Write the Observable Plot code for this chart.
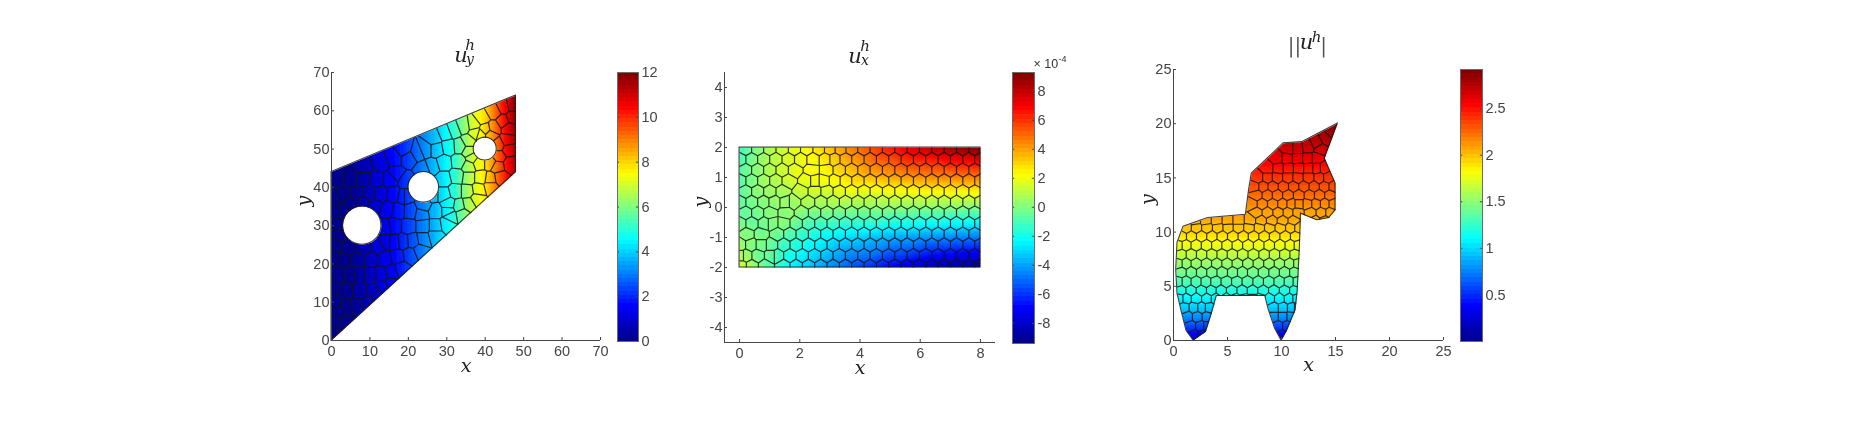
<!DOCTYPE html>
<html><head><meta charset="utf-8">
<script src="https://cdn.jsdelivr.net/npm/d3@7"></script>
<script src="https://cdn.jsdelivr.net/npm/@observablehq/plot@0.6"></script>
<style>html,body{margin:0;background:#fff}#page{position:relative;width:1868px;height:431px;overflow:hidden;filter:blur(.35px)}</style>
</head><body><div id="page"></div>
<script>
const jetStops = ["#00008f","#0000ff","#0080ff","#00ffff","#80ff80","#ffff00","#ff8000","#ff0000","#800000"];
const jet64 = d3.quantize(d3.piecewise(d3.interpolateRgb, jetStops), 64);

// Panel 1 : membrane with three holes
const outline1 = [[0,0],[48,44],[48,64],[0,44]];
const holes1 = [[8,30,5],[24,40,4],[40,50,3]];
const seeds1 = [[1.1,1.7],[.8,4.8],[3.6,4.3],[1.8,7.4],[4,8.7],[6.6,9.1],[9.2,9.5],[11.8,12.1],[.8,10],[3.6,12.8],[7.5,12.6],[11,12.8],[13.5,13.9],[15.5,14.7],[.5,13.9],
[1.8,17.2],[4.8,17.2],[7.6,17.3],[10,17.2],[13.1,17.2],[15.7,17.8],[18.1,18.6],[.5,21.5],[3.1,21.2],[7,21.2],[10.1,21.2],[14,21.2],[17,21.9],[20.5,22.4],[23,23.4],
[1,25.3],[4.4,24.1],[8.3,23.9],[12.1,24.7],[14,25.8],[16.3,25.6],[18.7,25.8],[21.1,26],[23.9,26.5],[27,27.3],[1.8,27.3],[1.8,30.4],[3.1,33.8],[14,29.5],
[16.4,29.9],[20,29.9],[23.9,29.9],[27,29.9],[30,30.4],[1,33.4],[4.9,35.7],[8.3,36.3],[11.4,35.1],[14.4,34.3],[17.4,33.8],[20.5,33.7],[23.5,33.1],[27,33.7],[30.4,33.8],
[.5,37.7],[3.1,38.2],[6.6,38.3],[9.6,38.3],[12.7,38.2],[16.1,38.3],[18.7,37.7],[1.4,42.3],[4.9,42.1],[8.3,42.3],[11.8,42.1],[15.3,42.1],[8.4,45.5],[12.7,46.4],[16.2,47.7],[16.7,43.4],
[19.3,41.6],[19.3,37.7],[24,35.1],[29.2,38.2],[24,44.7],[18.9,49.9],[20.1,47.7],[22.3,49],[24.5,49.9],[27.3,49.9],[30.5,50.5],[33.4,50.7],[35.7,52],[29.7,54.2],[26.6,52.9],[31.8,55],[34.4,56],[37,56.4],[39.2,58.1],[42.2,59.8],[44.8,61.1],[47,61.6],
[40.1,55.1],[37.5,54.2],[42.2,55.5],[44.8,57.2],[47,58.1],[35.7,49.4],[36.6,47.7],[38.3,46.4],[41.4,46.4],[43.5,48.1],[43.5,51.1],[45.7,52.2],[46.1,49.9],[46.6,46.1],[43.1,45.5],[41.4,53.8],[38.8,53.8],[46.1,55.5],
[26.2,45.5],[29.2,46.4],[33.2,46.8],[35.7,45.5],[29.2,42.1],[32.7,42.9],[35.7,42.5],[38.8,42.5],[41.4,42.1],[43.9,42.5],[32.3,39],[35.3,39],[38.3,39.5],[41.4,40.3],[30.5,35.6],[33.2,35.1],[35.7,35.6],[37.9,36.9],[31,32.5],[34,33],[26.2,38.2]];
const field1X = [0,6,12,18,24,28,32,36,40,44,48];
const field1Y = [-10,45,64];
const field1V = [[0,.2,1,1.8,3,3.9,4.9,6.5,7.6,9.2,11],[0,.2,1,1.9,3.1,4,5,6.6,7.8,9.6,11.4],[0,.2,1.1,2,3.2,4.1,5.2,6.8,8,10,12]];

// Panel 2 : beam
const outline2 = [[0,-2],[8,-2],[8,2],[0,2]];
const mesh2 = [
[1.96,[.2,.6,1,1.42,1.82,2.23,2.64,3,3.35,3.72,4.13,4.54,4.95,5.36,5.77,6.18,6.59,7,7.41,7.82]],
[1.6,[.02,.4,.8,1.2,1.62,2.03,2.44,2.85,3.15,3.52,3.93,4.34,4.75,5.16,5.57,5.98,6.39,6.8,7.21,7.62,8]],
[1.25,[.2,.6,1,1.42,1.82,2.4,2.9,3.31,3.72,4.13,4.54,4.95,5.36,5.77,6.18,6.59,7,7.41,7.82]],
[.89,[.02,.4,.8,1.2,1.62,2.23,2.49,2.8,3.16,3.52,3.93,4.34,4.75,5.16,5.57,5.98,6.39,6.8,7.21,7.62,8]],
[.53,[.2,.6,1,1.42,2.05,2.5,2.9,3.31,3.72,4.13,4.54,4.95,5.36,5.77,6.18,6.59,7,7.41,7.82]],
[.18,[.02,.4,.8,1.15,1.53,1.78,2.29,2.7,3.11,3.52,3.93,4.34,4.75,5.16,5.57,5.98,6.39,6.8,7.21,7.62,8]],
[-.18,[.2,.6,1,1.55,2.08,2.49,2.9,3.31,3.72,4.13,4.54,4.95,5.36,5.77,6.18,6.59,7,7.41,7.82]],
[-.53,[.02,.4,.83,1.08,1.47,1.88,2.29,2.7,3.11,3.52,3.93,4.34,4.75,5.16,5.57,5.98,6.39,6.8,7.21,7.62,8]],
[-.89,[.25,.72,1.26,1.67,2.08,2.49,2.9,3.31,3.72,4.13,4.54,4.95,5.36,5.77,6.18,6.59,7,7.41,7.82]],
[-1.25,[.02,.38,.72,1.06,1.47,1.88,2.29,2.7,3.11,3.52,3.93,4.34,4.75,5.16,5.57,5.98,6.39,6.8,7.21,7.62,8]],
[-1.6,[.04,.22,.6,1.05,1.26,1.67,2.08,2.49,2.9,3.31,3.72,4.13,4.54,4.95,5.36,5.77,6.18,6.59,7,7.41,7.82]],
[-1.96,[.05,.4,.85,1.47,1.88,2.29,2.7,3.11,3.52,3.93,4.34,4.75,5.16,5.57,5.98,6.39,6.8,7.21,7.62,8]]];
const field2X = [0,1,2,3,4,5,6,7,8];
const field2Y = [2,1,0,-1,-2];
const field2V = [[-1.2,.8,2,3.4,5,6.5,7.8,8.7,9.3],[-.8,.8,1.9,2.3,3.3,3.8,4.2,4.4,4.6],[-.7,.1,.4,.3,.2,.2,.1,.05,0],[.3,-.3,-1.5,-2.6,-3.2,-3.8,-4.2,-4.5,-4.8],[1.5,-.8,-3,-4.4,-5.8,-7,-8,-8.8,-9.3]];

// Panel 3 : donkey
const outline3 = [[1.85,0],[1.2,.9],[.8,2.5],[.37,4.3],[.25,6.5],[.37,9],[.93,10.5],[3.2,11.3],[6.7,11.6],[7,13.9],[7.25,15.4],[10.2,18.2],[11.9,18.3],[15.2,20],[14,16.8],[15,14.5],[15,12],[14.4,11.3],[13.3,11.1],[11.8,11.7],[11.7,8.6],[11.5,4.6],[11.3,2.8],[10.5,.9],[10,0],[9.4,1.1],[8.8,2.9],[8.5,4.1],[4,4.1],[3.55,2.5],[3,.8]];
const mesh3 = [
[19.2,[14.7]],[18.6,[14.1]],[18.2,[13.3]],[17.8,[12.4]],
[17.7,[10.6,11.5,13.6]],
[16.8,[9.6,10.5,11.5,12.4,13.3]],
[15.9,[8.7,9.7,10.6,11.6,12.5,13.3,13.9]],
[15,[7.8,8.7,9.6,10.6,11.5,12.5,13.5,14.3]],
[14.2,[7.5,8.3,9.2,10.2,11.1,12.1,13,14,14.8]],
[13.4,[7.7,8.7,9.6,10.6,11.6,12.6,13.5,14.5]],
[12.6,[7.3,8.2,9.2,10.1,10.9,11.6,12.4,13.2,14,14.8]],
[11.8,[7.7,8.7,9.7,10.6,11.5,12.7,13.7,14.5]],
[11.05,[2,3,4,5,6,7.1,8.1,9.1,10.1,11.1,13.1,14]],
[10.4,[1.2,2.1,3.1,4.1,5.05,6,7,7.95,8.9,9.9,10.85,11.6]],
[9.6,[.75,1.65,2.6,3.55,4.5,5.5,6.45,7.4,8.4,9.35,10.35,11.3]],
[8.8,[.45,1.15,2.1,3.05,4,4.95,5.9,6.9,7.9,8.85,9.85,10.8,11.55]],
[7.9,[.7,1.65,2.6,3.55,4.5,5.45,6.4,7.4,8.4,9.35,10.3,11.25]],
[7.1,[.45,1.15,2.1,3.05,4,4.95,5.9,6.9,7.85,8.85,9.8,10.75,11.5]],
[6.3,[.7,1.65,2.6,3.55,4.5,5.5,6.35,7.35,8.35,9.3,10.3,11.2]],
[5.4,[.45,1.15,2.1,3,3.9,4.9,5.85,6.85,7.85,8.8,9.8,10.7,11.45]],
[4.6,[.7,1.6,2.6,3.5,4.4,5.4,6.35,7.3,8.3,9.3,10.3,11.2]],
[3.9,[.55,1.2,2.1,3.1,3.9,4.9,5.7,6.5,7.3,8.1,8.9,9.8,10.7,11.4]],
[3,[1,1.9,2.6,3.3,9.3,10.1,11,11.4]],
[2.2,[1.3,2.2,3.1,9.3,10.1,10.9]],
[1.3,[1.6,2.5,3.1,9.7,10.5]],
[.5,[1.9,2.7,10]]];
const field3X = [0,8,16];
const field3Y = [0,1,2,3,4,5,6,7,8,9,10,11,12,13,14,15,16,17,18,20];
const field3V = [.2,.5,.75,.95,1.1,1.25,1.4,1.5,1.65,1.8,1.95,2.05,2.1,2.2,2.3,2.4,2.5,2.6,2.7,2.9];

const tickColor = "#454545";
const uid = {n: 0};

function gridTable(xs, ys, at) {
  return ys.flatMap((y, j) => xs.map((x, i) => ({x, y, v: at(i, j)})));
}

// Clip a mark to the domain shape, through the plot's own scales, and stroke the shape.
function clipped(outline, holes, strokeIt) {
  return function (index, scales, values, dimensions, context, next) {
    const g = next(index, scales, values, dimensions, context);
    const {x, y} = scales;
    let d = "M" + outline.map(p => `${x(p[0])},${y(p[1])}`).join("L") + "Z";
    for (const [cx, cy, r] of holes) {
      const rx = Math.abs(x(cx + r) - x(cx)), ry = Math.abs(y(cy + r) - y(cy));
      d += `M${x(cx) - rx},${y(cy)}A${rx},${ry} 0 1 0 ${x(cx) + rx},${y(cy)}A${rx},${ry} 0 1 0 ${x(cx) - rx},${y(cy)}Z`;
    }
    const ns = "http://www.w3.org/2000/svg", id = "shape" + (++uid.n);
    const outer = document.createElementNS(ns, "g");
    const cp = document.createElementNS(ns, "clipPath");
    cp.setAttribute("id", id);
    const cpath = document.createElementNS(ns, "path");
    cpath.setAttribute("d", d);
    cpath.setAttribute("clip-rule", "evenodd");
    cp.appendChild(cpath);
    outer.appendChild(cp);
    g.setAttribute("clip-path", `url(#${id})`);
    outer.appendChild(g);
    if (strokeIt) {
      const s = document.createElementNS(ns, "path");
      s.setAttribute("d", d);
      s.setAttribute("fill", "none");
      s.setAttribute("stroke", "#1c1c1c");
      s.setAttribute("stroke-width", "1.1");
      s.setAttribute("stroke-opacity", ".85");
      outer.appendChild(s);
    }
    return outer;
  };
}

function place(el, left, top) {
  el.style.position = "absolute";
  el.style.left = left + "px";
  el.style.top = top + "px";
  el.style.maxWidth = "none";
  el.style.overflow = "visible";
  el.style.background = "transparent";
  document.getElementById("page").appendChild(el);
}

function panel({box, xDomain, yDomain, xTicks, yTicks, seeds, samples, outline, holes = [], colorDomain, titleMarks, xLabelDy, yLabelDx}) {
  const [x0, y0, x1, y1] = box;
  const mL = 60, mR = 10, mT = 50, mB = 60;
  const svg = Plot.plot({
    width: x1 - x0 + mL + mR, height: y1 - y0 + mT + mB,
    marginLeft: mL, marginRight: mR, marginTop: mT, marginBottom: mB,
    x: {domain: xDomain, axis: null}, y: {domain: yDomain, axis: null},
    color: {type: "quantize", domain: colorDomain, range: jet64},
    style: {fontFamily: "'Liberation Sans',Arial,sans-serif", fontSize: "14.5px", color: tickColor},
    marks: [
      Plot.raster(samples, {x: "x", y: "y", fill: "v", interpolate: "barycentric",
        x1: xDomain[0], x2: xDomain[1], y1: yDomain[0], y2: yDomain[1], pixelSize: 1,
        render: clipped(outline, holes, false)}),
      Plot.voronoiMesh(seeds, {x: "x", y: "y", stroke: "#141414", strokeWidth: 1.2, strokeOpacity: .85,
        render: clipped(outline, holes, true)}),
      Plot.ruleX([xDomain[0]], {stroke: tickColor}),
      Plot.ruleY([yDomain[0]], {stroke: tickColor}),
      Plot.axisX({ticks: xTicks, tickSize: -3, tickPadding: 8, label: null, tickFormat: d => String(d), fill: tickColor}),
      Plot.axisY({ticks: yTicks, tickSize: -3, tickPadding: 5, label: null, tickFormat: d => String(d), fill: tickColor}),
      Plot.text(["x"], {frameAnchor: "bottom", dy: xLabelDy, fontFamily: "'DejaVu Serif',serif", fontStyle: "italic", fontSize: 19, fill: "#222"}),
      Plot.text(["y"], {frameAnchor: "left", dx: yLabelDx, rotate: -90, fontFamily: "'DejaVu Serif',serif", fontStyle: "italic", fontSize: 19, fill: "#222"}),
      ...titleMarks
    ]
  });
  place(svg, x0 - mL, y0 - mT);
}

function colorbar({box, domain, ticks, tickFormat, extra = []}) {
  const [x0, y0, x1, y1] = box;
  const mL = 2, mR = 50, mT = 25, mB = 5;
  const bandW = (domain[1] - domain[0]) / 64;
  const bands = jet64.map((c, i) => ({c, lo: domain[0] + i * bandW, hi: domain[0] + (i + 1) * bandW}));
  const svg = Plot.plot({
    width: x1 - x0 + mL + mR, height: y1 - y0 + mT + mB,
    marginLeft: mL, marginRight: mR, marginTop: mT, marginBottom: mB,
    x: {domain: [0, 1], axis: null}, y: {domain, axis: null},
    color: {type: "identity"},
    style: {fontFamily: "'Liberation Sans',Arial,sans-serif", fontSize: "14.5px", color: tickColor},
    marks: [
      Plot.rect(bands, {x1: 0, x2: 1, y1: "lo", y2: "hi", fill: "c", shapeRendering: "crispEdges"}),
      Plot.ruleY(ticks, {x1: 0, x2: .1, stroke: tickColor}),
      Plot.ruleY(ticks, {x1: .9, x2: 1, stroke: tickColor}),
      Plot.frame({stroke: "#6a6a6a", strokeWidth: 1}),
      Plot.axisY({anchor: "right", ticks, tickSize: 0, tickPadding: 3, label: null, tickFormat, fill: tickColor}),
      ...extra
    ]
  });
  place(svg, x0 - mL, y0 - mT);
}

const serif = {fontFamily: "'DejaVu Serif',serif", fontStyle: "italic", fill: "#222"};
function titlePart(txt, dx, dy, size, style = serif) {
  return Plot.text([txt], {frameAnchor: "top", dx, dy, fontSize: size, ...style});
}
const plain = {fontFamily: "'Liberation Sans',sans-serif", fill: "#333"};
const bars = {fontFamily: "'DejaVu Serif',serif", fill: "#555"};

panel({box: [331, 72, 600, 340], xDomain: [0, 70], yDomain: [0, 70],
  xTicks: [0,10,20,30,40,50,60,70], yTicks: [0,10,20,30,40,50,60,70],
  seeds: seeds1.map(([x, y]) => ({x, y})),
  samples: gridTable(field1X, field1Y, (i, j) => field1V[j][i]),
  outline: outline1, holes: holes1, colorDomain: [0, 12],
  xLabelDy: 31, yLabelDx: -28,
  titleMarks: [titlePart("u", -5, -25, 21), titlePart("h", 4, -33, 15), titlePart("y", 4, -18, 14)]
});
colorbar({box: [617, 72, 638, 341], domain: [0, 12], ticks: [0,2,4,6,8,10,12], tickFormat: d => String(d)});

panel({box: [724, 72, 995, 342], xDomain: [-.5, 8.5], yDomain: [-4.5, 4.5],
  xTicks: [0,2,4,6,8], yTicks: [-4,-3,-2,-1,0,1,2,3,4],
  seeds: mesh2.flatMap(([y, xs]) => xs.map(x => ({x, y}))),
  samples: gridTable(field2X, field2Y, (i, j) => field2V[j][i]),
  outline: outline2, colorDomain: [-9.4, 9.3],
  xLabelDy: 31, yLabelDx: -24,
  titleMarks: [titlePart("u", -5, -24, 21), titlePart("h", 5, -32, 15), titlePart("x", 5, -17, 14)]
});
colorbar({box: [1012, 72, 1034, 343], domain: [-9.4, 9.3], ticks: [-8,-6,-4,-2,0,2,4,6,8], tickFormat: d => String(d),
  extra: [
    Plot.text(["\u00d7 10"], {frameAnchor: "top-left", dx: 21, dy: -13, fontSize: 12.5, textAnchor: "start", ...plain}),
    Plot.text(["-4"], {frameAnchor: "top-left", dx: 46, dy: -17, fontSize: 9, textAnchor: "start", ...plain})
  ]});

panel({box: [1173, 69, 1443, 340], xDomain: [0, 25], yDomain: [0, 25],
  xTicks: [0,5,10,15,20,25], yTicks: [0,5,10,15,20,25],
  seeds: mesh3.flatMap(([y, xs]) => xs.map(x => ({x, y}))),
  samples: gridTable(field3X, field3Y, (i, j) => field3V[j]),
  outline: outline3, colorDomain: [0, 2.92],
  xLabelDy: 30, yLabelDx: -26,
  titleMarks: [titlePart("||", -14, -32, 20, bars), titlePart("u", -2, -35, 21), titlePart("h", 8, -38, 15), titlePart("|", 15, -32, 20, bars)]
});
colorbar({box: [1460, 69, 1482, 341], domain: [0, 2.92], ticks: [.5,1,1.5,2,2.5], tickFormat: d => String(d)});
</script></body></html>
